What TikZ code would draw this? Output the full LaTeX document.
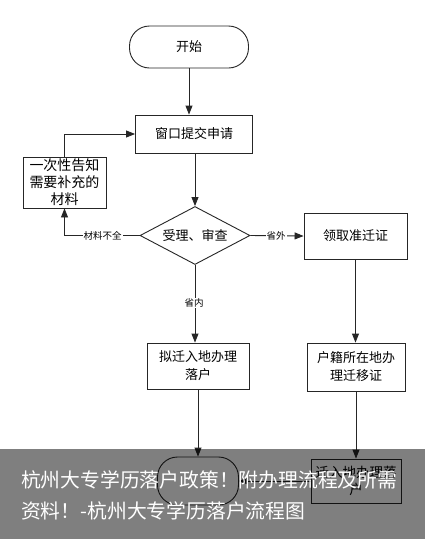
\documentclass[tikz,border=0pt]{standalone}
\usepackage{fontspec}
\setmainfont{Noto Sans CJK SC}
\newfontfamily\cjk{Noto Sans CJK SC}
\usetikzlibrary{shapes.geometric,arrows.meta}
\begin{document}
\begin{tikzpicture}[x=1pt,y=-1pt,
  ln/.style={draw=black!85,line width=0.9pt},
  arr/.style={ln,-{Triangle[length=9pt,width=7pt]}},
  box/.style={draw=black!85,line width=0.9pt,fill=white,align=center,inner sep=1pt,font=\cjk\fontsize{13}{18}\selectfont},
  term/.style={box,rounded corners=20pt},
  lbl/.style={fill=white,inner sep=1pt,font=\cjk\fontsize{9.5}{11}\selectfont}]
\useasboundingbox (0,0) rectangle (425,539);
\fill[white] (0,0) rectangle (425,539);
% nodes
\node[term,minimum width=119pt,minimum height=42pt] (start) at (189,47) {开始};
\node[box,minimum width=117pt,minimum height=38pt] (submit) at (194,134) {窗口提交申请};
\node[box,minimum width=83pt,minimum height=51pt,font=\cjk\fontsize{14}{17}\selectfont] (left) at (64.5,182.5) {一次性告知\\需要补充的\\材料};
\node[diamond,draw=black!85,line width=0.9pt,minimum width=110pt,minimum height=58pt,inner sep=0pt] (d) at (195,235.5) {};
\node[font=\cjk\fontsize{13}{16}\selectfont] (dt) at (d) {受理、审查};
\node[box,minimum width=103pt,minimum height=46pt] (r1) at (355.5,236) {领取准迁证};
\node[box,minimum width=102pt,minimum height=46pt] (mid) at (198,366) {拟迁入地办理\\落户};
\node[box,minimum width=98pt,minimum height=48pt] (r2) at (356,367) {户籍所在地办\\理迁移证};
\node[term,minimum width=81pt,minimum height=48pt] (end) at (198,481) {};
\node[box,minimum width=90pt,minimum height=44pt,font=\cjk\fontsize{13.5}{17}\selectfont] (r3) at (356,481) {迁入地办理落\\户};
% connectors
\draw[arr] (start.south) -- (start.south |- submit.north);
\draw[arr] (submit.south -| d.north) -- (d.north);
\draw[arr] (d.west) -- (left.south |- d.west) -- (left.south);
\node[lbl] (l1) at (102.5,235.5) {材料不全};
\draw[arr] (left.north) |- (submit.west);
\draw[arr] (d.east) -- (r1.west);
\node[lbl] (l2) at (276,235.5) {省外};
\draw[arr] (d.south) -- (d.south |- mid.north);
\node[lbl] (l3) at (194,303) {省内};
\draw[arr] (r1.south) -- (r1.south |- r2.north);
\draw[arr] (mid.south) -- (mid.south |- end.north);
\draw[arr] (r2.south) -- (r2.south |- r3.north);
\draw[arr] (r3.west) -- (end.east);
% overlay band
\fill[black,opacity=0.5] (0,449) rectangle (425,539);
\node[anchor=west,text=white,inner sep=0pt,font=\cjk\fontsize{19.8}{24}\selectfont] (cap1) at (21,480) {杭州大专学历落户政策！附办理流程及所需};
\node[anchor=west,text=white,inner sep=0pt,font=\cjk\fontsize{19.8}{24}\selectfont] (cap2) at (21,511) {资料！-杭州大专学历落户流程图};
\end{tikzpicture}
\end{document}
